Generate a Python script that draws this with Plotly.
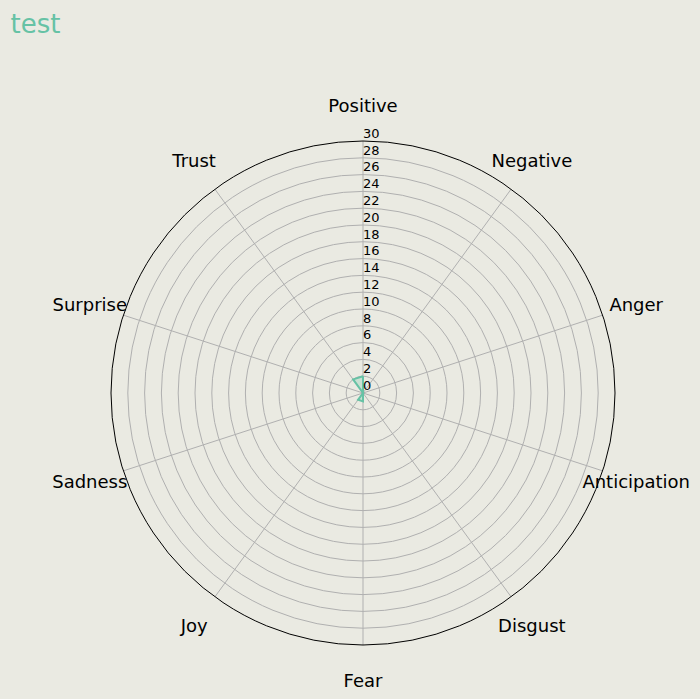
import plotly.graph_objects as go

categories = ["Positive", "Negative", "Anger", "Anticipation", "Disgust",
              "Fear", "Joy", "Sadness", "Surprise", "Trust"]
values = [2, 0, 0, 0, 0, 1, 1, 0, 0, 2]
radial_ticks = list(range(0, 31, 2))
label_radius = [34.2] * len(categories)

BG = "#eaeae2"
TEAL = "#66c2a5"
W, H = 700, 699
CX, CY, R = 363, 393, 252      # pixel centre / radius of the main polar
RMAX = 30
LABEL_RMAX = 36
R2 = R * LABEL_RMAX / RMAX


def dom(cx, cy, r):
    return dict(x=[(cx - r) / W, (cx + r) / W],
                y=[(H - cy - r) / H, (H - cy + r) / H])


fig = go.Figure()
fig.add_trace(go.Scatterpolar(
    r=values + values[:1],
    theta=categories + categories[:1],
    mode="lines",
    line=dict(color=TEAL, width=2),
    fill="toself",
    fillcolor="rgba(102,194,165,0.25)",
    showlegend=False, hoverinfo="skip",
))
# radial tick labels
fig.add_trace(go.Scatterpolar(
    r=radial_ticks, theta=[categories[0]] * len(radial_ticks), mode="text",
    text=[str(v) for v in radial_ticks], textposition="top right",
    textfont=dict(family="DejaVu Sans", size=13, color="black"),
    cliponaxis=False, showlegend=False, hoverinfo="skip",
))
# category labels outside the outer ring (overlay polar with same scale)
fig.add_trace(go.Scatterpolar(
    r=label_radius, theta=categories, mode="text", text=categories,
    textposition="middle center",
    textfont=dict(family="DejaVu Sans", size=18, color="black"),
    cliponaxis=False, showlegend=False, hoverinfo="skip",
    subplot="polar2",
))

hidden_axes = dict(
    angularaxis=dict(rotation=90, direction="clockwise",
                     categoryorder="array", categoryarray=categories,
                     showline=False, showgrid=False, showticklabels=False, ticks=""),
    radialaxis=dict(range=[0, LABEL_RMAX], showline=False, showgrid=False,
                    showticklabels=False, ticks=""),
)

fig.update_layout(
    width=W, height=H,
    paper_bgcolor=BG, plot_bgcolor=BG,
    margin=dict(l=0, r=0, t=0, b=0),
    title=dict(text="test", x=0.015, xanchor="left", y=0.979, yanchor="top",
               font=dict(family="DejaVu Sans", size=26, color=TEAL)),
    font=dict(family="DejaVu Sans", color="black"),
    polar=dict(
        bgcolor=BG,
        domain=dom(CX, CY, R),
        angularaxis=dict(
            rotation=90, direction="clockwise",
            categoryorder="array", categoryarray=categories,
            showline=True, linecolor="black", linewidth=1,
            gridcolor="#b0b0b0", gridwidth=1,
            ticks="", showticklabels=False,
        ),
        radialaxis=dict(
            range=[0, RMAX], tickvals=radial_ticks,
            angle=90, showline=False, ticks="", showticklabels=False,
            gridcolor="#b0b0b0", gridwidth=1,
        ),
    ),
    polar2=dict(bgcolor="rgba(0,0,0,0)", domain=dom(CX, CY + 2, R2), **hidden_axes),
)

fig.write_html("out.html")
